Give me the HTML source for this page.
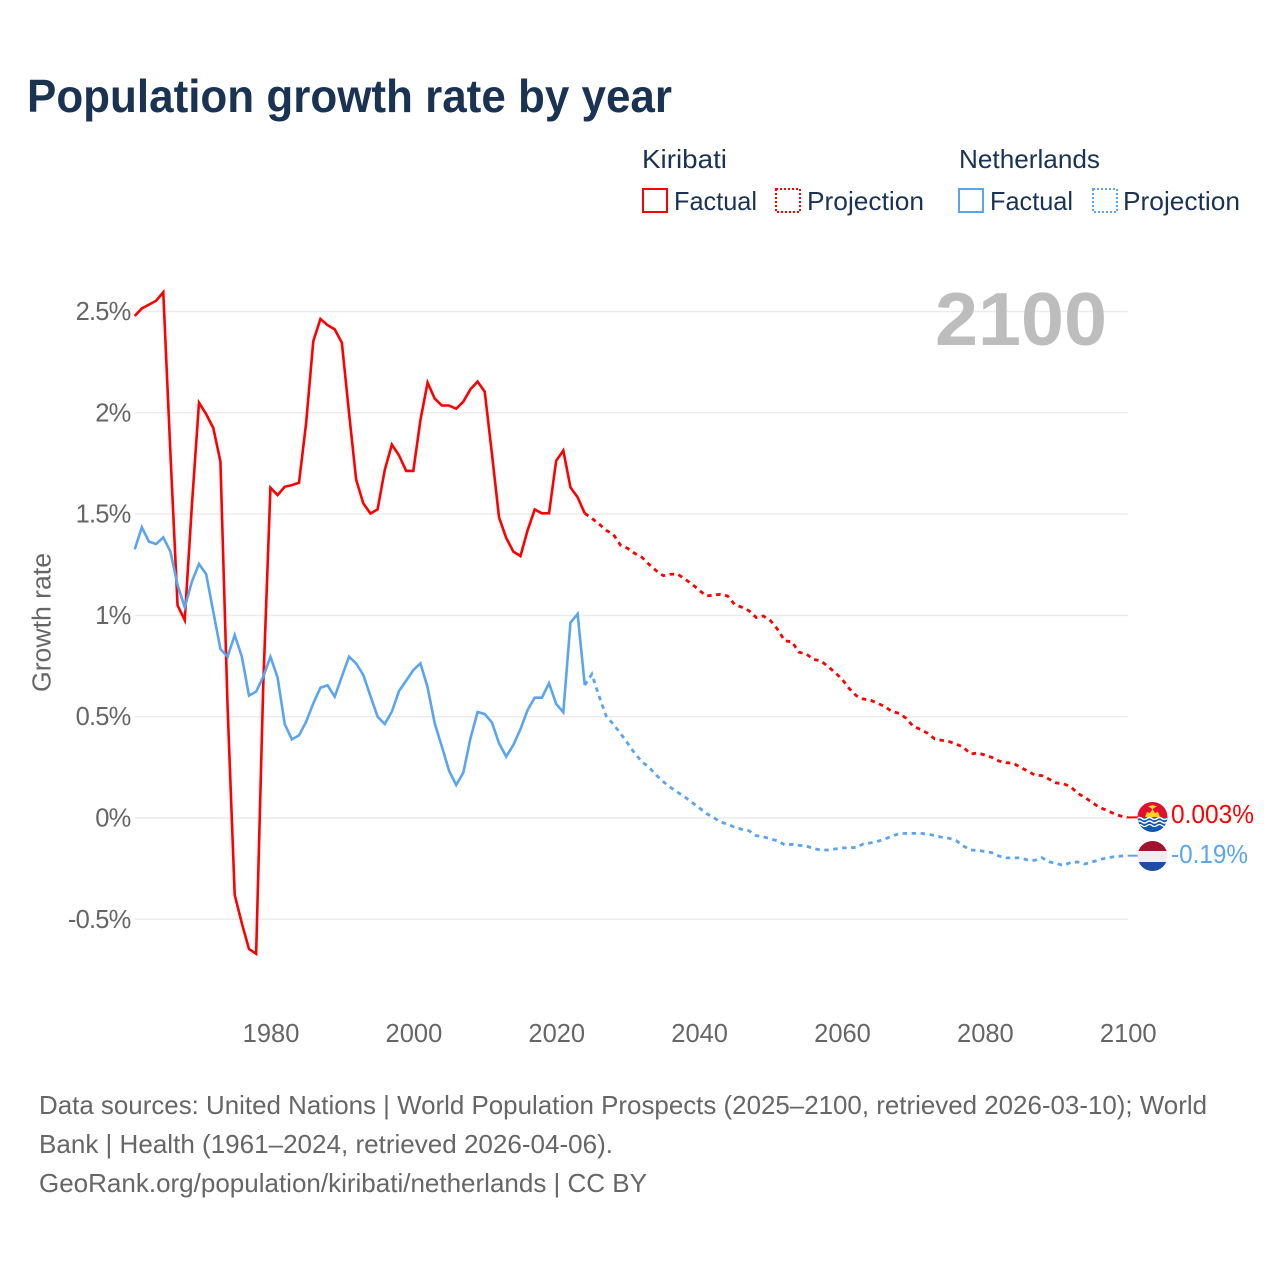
<!DOCTYPE html>
<html lang="en">
<head>
<meta charset="utf-8">
<title>Population growth rate by year</title>
<style>
html,body{margin:0;padding:0;background:#fff;}
svg{display:block;font-family:"Liberation Sans",sans-serif;}
.legend-text{font-size:26px;fill:#1a3353;}
.tick{font-size:25.5px;fill:#666;}
.ytick{letter-spacing:-0.8px;}
.foot{font-size:26px;fill:#666;}
</style>
</head>
<body>
<svg id="chart" width="1280" height="1280" viewBox="0 0 1280 1280" xmlns="http://www.w3.org/2000/svg">
  <rect width="1280" height="1280" fill="#fff"/>
  <text x="27" y="112" font-size="46" font-weight="700" fill="#1a3353" textLength="645" lengthAdjust="spacingAndGlyphs">Population growth rate by year</text>

  <g>
    <text class="legend-text" x="642" y="168" textLength="85" lengthAdjust="spacingAndGlyphs">Kiribati</text>
    <text class="legend-text" x="959" y="168" textLength="141" lengthAdjust="spacingAndGlyphs">Netherlands</text>
    <rect x="643" y="189" width="24" height="23" fill="none" stroke="#ff0000" stroke-width="2"/>
    <text class="legend-text" x="674" y="210" textLength="83" lengthAdjust="spacingAndGlyphs">Factual</text>
    <rect x="776" y="189" width="24" height="23" fill="none" stroke="#ff0000" stroke-width="2" stroke-dasharray="2 2"/>
    <text class="legend-text" x="807" y="210" textLength="117" lengthAdjust="spacingAndGlyphs">Projection</text>
    <rect x="959" y="189" width="24" height="23" fill="none" stroke="#5ba4ee" stroke-width="2"/>
    <text class="legend-text" x="990" y="210" textLength="83" lengthAdjust="spacingAndGlyphs">Factual</text>
    <rect x="1093" y="189" width="24" height="23" fill="none" stroke="#5ba4ee" stroke-width="2" stroke-dasharray="2 2"/>
    <text class="legend-text" x="1123" y="210" textLength="117" lengthAdjust="spacingAndGlyphs">Projection</text>
  </g>

  <g id="grid"></g>
  <text x="935" y="345" font-size="75" font-weight="700" fill="#bdbdbd" textLength="172" lengthAdjust="spacingAndGlyphs">2100</text>
  <g id="yticks"></g>
  <g id="xticks"></g>
  <text class="tick" transform="translate(50.5,692) rotate(-90)" textLength="139" lengthAdjust="spacingAndGlyphs">Growth rate</text>
  <g id="series"></g>

  <defs>
    <clipPath id="clip-ki"><circle cx="1152.5" cy="817" r="15"/></clipPath>
    <clipPath id="clip-nl"><circle cx="1152.5" cy="856" r="15"/></clipPath>
  </defs>
  <g clip-path="url(#clip-ki)">
    <rect x="1137" y="801" width="31" height="17" fill="#e0102f"/>
    <rect x="1137" y="817" width="31" height="16" fill="#1259ad"/>
    <path d="M1145 817 L1147 812 L1150 813 L1152.5 809 L1155 813 L1158 812 L1160 817 Z" fill="#fbd024"/>
    <path d="M1148 806.500 L1152.500 805 L1157 806.500 L1154 808 L1152.500 809.500 L1151 808 Z" fill="#fbd024"/>
    <path d="M1137 818.500 q2.500 -2 5 0 t5 0 t5 0 t5 0 t5 0 t5 0" fill="none" stroke="#fff" stroke-width="1.500"/>
    <path d="M1137 822 q2.500 -2 5 0 t5 0 t5 0 t5 0 t5 0 t5 0" fill="none" stroke="#fff" stroke-width="1.500"/>
    <path d="M1137 825.500 q2.500 -2 5 0 t5 0 t5 0 t5 0 t5 0 t5 0" fill="none" stroke="#fff" stroke-width="1.200"/>
  </g>
  <g clip-path="url(#clip-nl)">
    <rect x="1137" y="840" width="31" height="11" fill="#a2142e"/>
    <rect x="1137" y="851" width="31" height="11" fill="#eeeeee"/>
    <rect x="1137" y="862" width="31" height="10" fill="#1e4da6"/>
  </g>
  <text x="1171" y="823" font-size="25.500" fill="#ff0000" textLength="83" lengthAdjust="spacingAndGlyphs">0.003%</text>
  <text x="1171" y="863" font-size="25.500" fill="#5ba4ee" textLength="77" lengthAdjust="spacingAndGlyphs">-0.19%</text>

  <g>
    <text class="foot" x="39" y="1114" textLength="1168" lengthAdjust="spacingAndGlyphs">Data sources: United Nations | World Population Prospects (2025–2100, retrieved 2026-03-10); World</text>
    <text class="foot" x="39" y="1153" textLength="574" lengthAdjust="spacingAndGlyphs">Bank | Health (1961–2024, retrieved 2026-04-06).</text>
    <text class="foot" x="39" y="1192" textLength="608" lengthAdjust="spacingAndGlyphs">GeoRank.org/population/kiribati/netherlands | CC BY</text>
  </g>
</svg>
<script>
const yTickValues = [2.5, 2, 1.5, 1, 0.5, 0, -0.5];
const yTickLabels = ["2.5%", "2%", "1.5%", "1%", "0.5%", "0%", "-0.5%"];
const xTickYears = [1980, 2000, 2020, 2040, 2060, 2080, 2100];
const factualStartYear = 1961;
const projectionStartYear = 2025;
const kiribatiFactual = [
  2.478,2.515,2.534,2.553,2.595,1.80,1.05,0.977,1.54,2.05,
  1.994,1.925,1.76,0.55,-0.38,-0.52,-0.647,-0.67,0.66,1.63,
  1.594,1.635,1.643,1.655,1.95,2.354,2.463,2.433,2.412,2.346,
  2.00,1.67,1.553,1.503,1.523,1.717,1.843,1.79,1.713,1.713,
  1.964,2.149,2.07,2.036,2.036,2.02,2.055,2.116,2.154,2.104,
  1.80,1.484,1.383,1.315,1.293,1.42,1.523,1.504,1.504,1.763,
  1.814,1.632,1.583,1.504
];
const kiribatiProjection = [
  1.479,1.451,1.42,1.40,1.347,1.331,1.306,1.287,1.252,1.221,
  1.196,1.203,1.204,1.18,1.155,1.125,1.096,1.10,1.104,1.096,
  1.053,1.04,1.023,0.99,0.997,0.974,0.931,0.874,0.87,0.818,
  0.81,0.783,0.776,0.75,0.719,0.686,0.64,0.604,0.587,0.582,
  0.566,0.55,0.525,0.517,0.492,0.451,0.438,0.418,0.39,0.383,
  0.377,0.365,0.349,0.316,0.321,0.311,0.299,0.281,0.273,0.27,
  0.25,0.232,0.212,0.209,0.192,0.173,0.169,0.155,0.122,0.102,
  0.077,0.053,0.039,0.023,0.01,0.003
];
const netherlandsFactual = [
  1.326,1.435,1.364,1.352,1.385,1.315,1.15,1.04,1.166,1.254,
  1.204,1.018,0.834,0.796,0.903,0.796,0.604,0.624,0.698,0.796,
  0.694,0.464,0.388,0.408,0.475,0.566,0.643,0.655,0.599,0.698,
  0.796,0.763,0.706,0.602,0.5,0.464,0.525,0.627,0.678,0.73,
  0.763,0.645,0.467,0.352,0.234,0.163,0.224,0.393,0.523,0.513,
  0.472,0.369,0.303,0.36,0.438,0.533,0.594,0.594,0.665,0.563,
  0.522,0.964,1.007,0.656
];
const netherlandsProjection = [
  0.71,0.602,0.503,0.462,0.418,0.369,0.319,0.278,0.25,0.212,
  0.179,0.151,0.127,0.104,0.077,0.051,0.023,0.003,-0.02,-0.03,
  -0.046,-0.056,-0.063,-0.087,-0.092,-0.104,-0.112,-0.133,-0.13,-0.135,
  -0.138,-0.15,-0.158,-0.158,-0.153,-0.148,-0.146,-0.146,-0.128,-0.123,
  -0.115,-0.104,-0.09,-0.077,-0.076,-0.076,-0.076,-0.079,-0.087,-0.095,
  -0.1,-0.112,-0.138,-0.158,-0.16,-0.165,-0.171,-0.188,-0.197,-0.197,
  -0.197,-0.207,-0.209,-0.196,-0.216,-0.224,-0.234,-0.22,-0.217,-0.227,
  -0.217,-0.207,-0.197,-0.192,-0.188,-0.186
];

const NS = "http://www.w3.org/2000/svg";
function xScale(year) { return 134.7 + (year - 1961) * 7.1436; }
function yScale(value) { return 818 - value * 202.6; }

function make(parent, tag, attrs, text) {
  const el = document.createElementNS(NS, tag);
  for (const k in attrs) el.setAttribute(k, attrs[k]);
  if (text !== undefined) el.textContent = text;
  parent.appendChild(el);
  return el;
}

const gridGroup = document.getElementById("grid");
const yGroup = document.getElementById("yticks");
yTickValues.forEach(function (v, i) {
  const line = make(gridGroup, "line", {
    x1: xScale(1961), x2: xScale(2100), y1: yScale(v), y2: yScale(v),
    stroke: "#ececec", "stroke-width": 1.5
  });
  
  
  const label = make(yGroup, "text", {
    x: 130.5, y: yScale(v) + 8.5, "text-anchor": "end", class: "tick ytick"
  }, yTickLabels[i]);
  
  
});

const xGroup = document.getElementById("xticks");
xTickYears.forEach(function (year) {
  const label = make(xGroup, "text", {
    x: xScale(year) + 0.6, y: 1042, "text-anchor": "middle", class: "tick"
  }, String(year));
  
  
});

function pathFrom(values, startYear, prefixPoint) {
  const pts = values.map(function (v, i) {
    return xScale(startYear + i).toFixed(2) + "," + yScale(v).toFixed(2);
  });
  if (prefixPoint) pts.unshift(xScale(prefixPoint[0]).toFixed(2) + "," + yScale(prefixPoint[1]).toFixed(2));
  return "M" + pts.join(" L");
}

const seriesGroup = document.getElementById("series");
const redColor = "#ff0000";
const blueColor = "#5ba4ee";

const kiFact = make(seriesGroup, "path", {
  d: pathFrom(kiribatiFactual, factualStartYear),
  fill: "none", stroke: redColor, "stroke-width": 2.6, "stroke-linejoin": "miter"
});



const nlFact = make(seriesGroup, "path", {
  d: pathFrom(netherlandsFactual, factualStartYear),
  fill: "none", stroke: blueColor, "stroke-width": 2.6, "stroke-linejoin": "miter"
});



const kiProj = make(seriesGroup, "path", {
  d: pathFrom(kiribatiProjection, projectionStartYear, [2024, kiribatiFactual[kiribatiFactual.length - 1]]),
  fill: "none", stroke: redColor, "stroke-width": 2.8, "stroke-dasharray": "4.5 4.5"
});



const nlProj = make(seriesGroup, "path", {
  d: pathFrom(netherlandsProjection, projectionStartYear, [2024, netherlandsFactual[netherlandsFactual.length - 1]]),
  fill: "none", stroke: blueColor, "stroke-width": 2.8, "stroke-dasharray": "4.5 4.5"
});



const kiLead = make(seriesGroup, "line", {
  x1: xScale(2100), x2: 1138,
  y1: yScale(kiribatiProjection[kiribatiProjection.length - 1]),
  y2: yScale(kiribatiProjection[kiribatiProjection.length - 1]),
  stroke: redColor, "stroke-width": 2
});



const nlLead = make(seriesGroup, "line", {
  x1: xScale(2100), x2: 1138,
  y1: yScale(netherlandsProjection[netherlandsProjection.length - 1]),
  y2: yScale(netherlandsProjection[netherlandsProjection.length - 1]),
  stroke: blueColor, "stroke-width": 2
});


</script>
</body>
</html>
